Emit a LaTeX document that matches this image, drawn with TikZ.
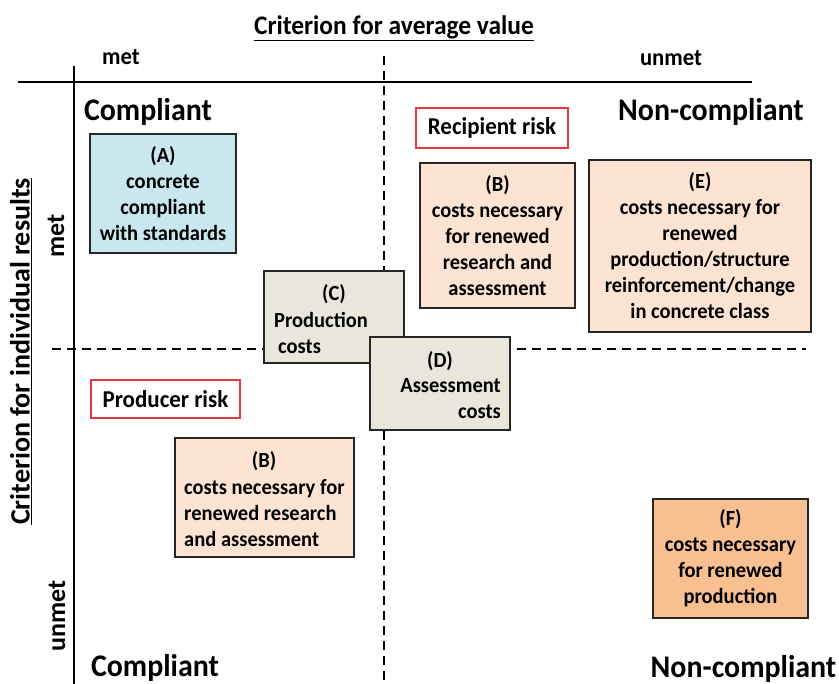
\documentclass[tikz,border=0pt]{standalone}
\usepackage{fontspec}
\newfontfamily\cf{Carlito}[FakeStretch=0.95]
\newfontfamily\cfr{Carlito}
\definecolor{aBlue}{HTML}{C8E7EF}
\definecolor{peach}{HTML}{FDE4D2}
\definecolor{orng}{HTML}{F8C090}
\definecolor{greyb}{HTML}{E9E7DB}
\definecolor{rskred}{HTML}{E8383D}
\tikzset{
  boxtxt/.style={font=\cf\bfseries\fontsize{21.6}{26}\selectfont},
  plaintxt/.style={boxtxt, inner sep=0pt},
  cbox/.style={boxtxt, draw=black!85, line width=1.1pt, inner sep=0pt, align=center},
  riskbox/.style={font=\cf\bfseries\fontsize{24.2}{26}\selectfont, draw=rskred, line width=1.6pt, fill=white, inner sep=0pt},
  head/.style={font=\cf\bfseries\fontsize{31.5}{32}\selectfont, inner sep=0pt},
  axlab/.style={font=\cf\bfseries\fontsize{23.9}{24}\selectfont, inner sep=0pt},
  raxlab/.style={font=\cfr\bfseries\fontsize{26}{28}\selectfont, inner sep=0pt, rotate=90},
  title/.style={font=\cf\bfseries\fontsize{26.8}{28}\selectfont, inner sep=0pt},
  ltitle/.style={font=\cfr\bfseries\fontsize{28}{30}\selectfont, inner sep=0pt, rotate=90},
  solidax/.style={line width=2.3pt, black},
  dashax/.style={line width=2.4pt, black, dash pattern=on 9pt off 6pt},
}
\begin{document}
\begin{tikzpicture}[x=1pt,y=-1pt]
\useasboundingbox (0,0) rectangle (839,684);
% axes
\coordinate (hL) at (18,82);
\coordinate (hR) at (752,82);
\coordinate (vT) at (74,66);
\coordinate (vB) at (74,684);
\coordinate (dT) at (384,56);
\coordinate (dB) at (384,684);
\coordinate (dL) at (52,349);
\coordinate (dR) at (806,349);
\draw[dashax] (dT) -- (dB);
\draw[dashax] (dL) -- (dR);
\draw[solidax] (hL) -- (hR);
\draw[solidax] (vT) -- (vB);
% titles
\node[title] (ttop) at (394,28) {\underline{Criterion for average value}};
\node[ltitle] (tleft) at (21,351.5) {\underline{Criterion for individual results}};
\node[axlab] (met1) at (121,57) {met};
\node[axlab] (unmet1) at (671,58) {unmet};
\node[raxlab] (met2) at (56,236) {met};
\node[raxlab] (unmet2) at (57,616) {unmet};
% headings
\node[head] (c1) at (148,112) {Compliant};
\node[head] (n1) at (711,112) {Non-compliant};
\node[head] (c2) at (155,668) {Compliant};
\node[head] (n2) at (743.5,669) {Non-compliant};
% boxes
\node[cbox, fill=aBlue, minimum width=146pt, minimum height=119pt] (A) at (163,193.5)
  {(A)\\concrete\\compliant\\with standards};
\node[riskbox, minimum width=152pt, minimum height=40pt] (rr) at (492,128) {Recipient risk};
\node[cbox, fill=peach, minimum width=155pt, minimum height=145pt] (B1) at (497.5,235.5)
  {(B)\\costs necessary\\for renewed\\research and\\assessment};
\node[cbox, fill=peach, minimum width=222pt, minimum height=172pt] (E) at (700,246)
  {(E)\\costs necessary for\\renewed\\production/structure\\reinforcement/change\\in concrete class};
% C
\node[cbox, fill=greyb, minimum width=140pt, minimum height=92pt] (C) at (334,317) {};
\node[plaintxt] (Cl) at (334,294) {(C)};
\node[plaintxt, align=left, anchor=west] (Ct) at (274,333) {Production\\\hspace*{4pt}costs};
% D
\node[cbox, fill=greyb, minimum width=140pt, minimum height=93pt] (D) at (440,383.5) {};
\node[plaintxt] (Dl) at (440,361) {(D)};
\node[plaintxt, align=right, anchor=east] (Dt) at (501,399) {Assessment\\costs};
% producer risk
\node[riskbox, minimum width=149pt, minimum height=38pt] (pr) at (165.5,399) {Producer risk};
% B lower
\node[cbox, fill=peach, minimum width=179pt, minimum height=119pt] (B2) at (264.5,497.5) {};
\node[plaintxt] (B2l) at (264,461) {(B)};
\node[plaintxt, align=left, anchor=west] (B2t) at (184,513) {costs necessary for\\renewed research\\and assessment};
% F
\node[cbox, fill=orng, minimum width=155pt, minimum height=119pt] (F) at (730.5,558.5)
  {(F)\\costs necessary\\for renewed\\production};
\end{tikzpicture}
\end{document}
